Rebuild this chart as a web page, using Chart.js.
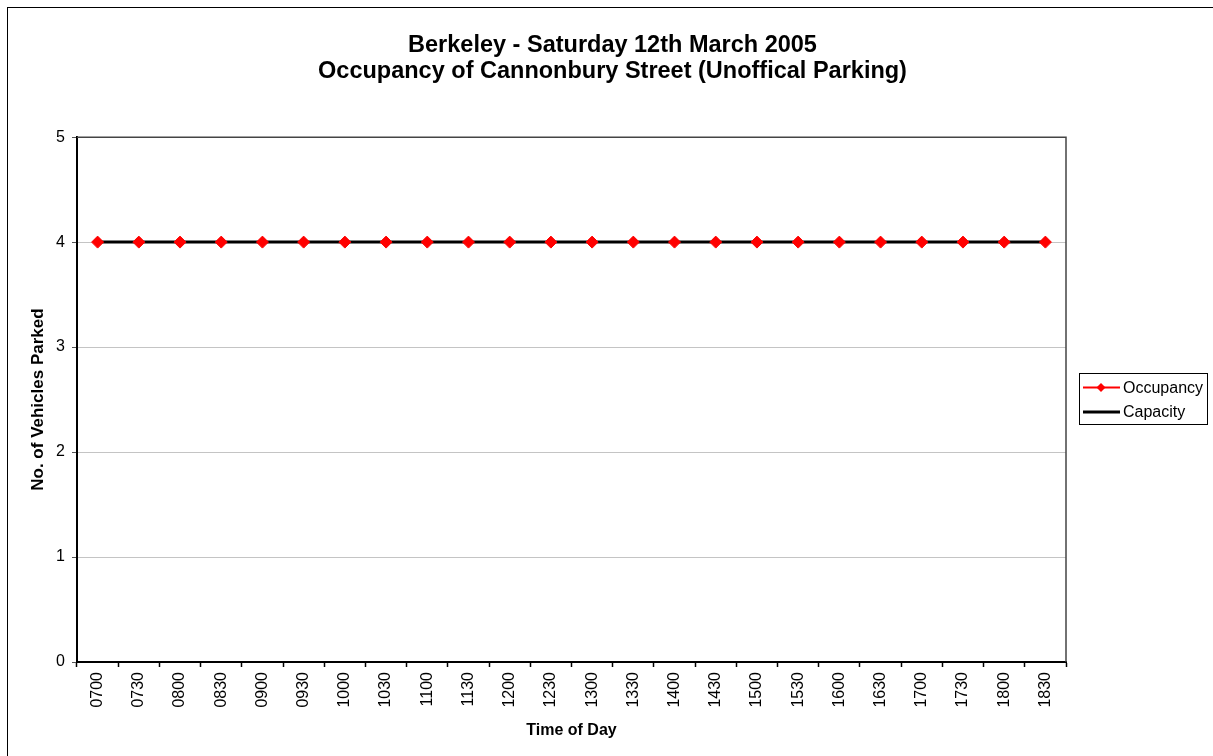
<!DOCTYPE html>
<html>
<head>
<meta charset="utf-8">
<script src="https://cdn.jsdelivr.net/npm/chart.js@4"></script>
<style>
html, body { margin: 0; padding: 0; background: #fff; overflow: hidden; }
#frame { position: absolute; left: 7px; top: 7px; width: 1212px; height: 760px; border: 1px solid #000; }
canvas { display: block; }
</style>
</head>
<body>
<div id="frame"><canvas id="chart" width="1209" height="752"></canvas></div>
<script>
const times = ['0700','0730','0800','0830','0900','0930','1000','1030','1100','1130','1200','1230',
  '1300','1330','1400','1430','1500','1530','1600','1630','1700','1730','1800','1830'];
const occupancy = [4,4,4,4,4,4,4,4,4,4,4,4,4,4,4,4,4,4,4,4,4,4,4,4];
const capacity = [4,4,4,4,4,4,4,4,4,4,4,4,4,4,4,4,4,4,4,4,4,4,4,4];
const yMin = 0, yMax = 5, yStep = 1;

const fontFamily = 'Arial, "Liberation Sans", sans-serif';

// plot area border (top / right) + boxed legend on the right
const excelBits = {
  id: 'excelBits',
  afterDatasetsDraw(chart) {
    const ctx = chart.ctx;
    const a = chart.chartArea;
    ctx.save();
    ctx.strokeStyle = '#444';
    ctx.lineWidth = 1.5;
    ctx.beginPath();
    ctx.moveTo(a.left, a.top);
    ctx.lineTo(a.right, a.top);
    ctx.lineTo(a.right, a.bottom);
    ctx.stroke();
    ctx.restore();
  },
  afterDraw(chart) {
    const ctx = chart.ctx;
    const ds = chart.data.datasets;
    const box = { x: 1071, y: 365, w: 128, h: 51 };
    ctx.save();
    ctx.strokeStyle = '#000';
    ctx.lineWidth = 1;
    ctx.strokeRect(box.x + 0.5, box.y + 0.5, box.w, box.h);
    ctx.font = '16px ' + fontFamily;
    ctx.textBaseline = 'middle';
    ctx.fillStyle = '#000';
    const rows = [379.5, 404];
    ds.forEach((d, i) => {
      const y = rows[i];
      ctx.strokeStyle = d.borderColor;
      ctx.lineWidth = d.borderWidth;
      ctx.beginPath();
      ctx.moveTo(1075, y);
      ctx.lineTo(1112, y);
      ctx.stroke();
      if (d.pointRadius > 0) {
        ctx.fillStyle = d.pointBackgroundColor;
        ctx.beginPath();
        ctx.moveTo(1093 - 4.5, y);
        ctx.lineTo(1093, y - 4.5);
        ctx.lineTo(1093 + 4.5, y);
        ctx.lineTo(1093, y + 4.5);
        ctx.closePath();
        ctx.fill();
      }
      ctx.fillStyle = '#000';
      ctx.fillText(d.label, 1115, y + 1);
    });
    ctx.restore();
  }
};

new Chart(document.getElementById('chart'), {
  type: 'line',
  data: {
    labels: times,
    datasets: [
      {
        label: 'Occupancy',
        data: occupancy,
        borderColor: '#ff0000',
        borderWidth: 2,
        segment: { borderColor: 'rgba(0,0,0,0)' },
        pointStyle: 'rectRot',
        pointRadius: 6,
        pointBorderWidth: 1,
        pointBackgroundColor: '#ff0000',
        pointBorderColor: '#ff0000',
        order: 1
      },
      {
        label: 'Capacity',
        data: capacity,
        borderColor: '#000000',
        borderWidth: 3,
        pointRadius: 0,
        order: 2
      }
    ]
  },
  options: {
    responsive: false,
    animation: false,
    layout: { padding: 0 },
    plugins: {
      legend: { display: false },
      tooltip: { enabled: false },
      title: {
        display: true,
        text: ['Berkeley - Saturday 12th March 2005', 'Occupancy of Cannonbury Street (Unoffical Parking)'],
        color: '#000',
        font: { family: fontFamily, size: 23.5, weight: 'bold', lineHeight: 1.12 },
        padding: { top: 24, bottom: 52.5 }
      }
    },
    scales: {
      x: {
        offset: true,
        afterFit(scale) { scale.height = 98; },
        border: { color: '#000', width: 2 },
        grid: { offset: true, drawOnChartArea: false, tickLength: 5, tickColor: '#000', tickWidth: 1.5 },
        ticks: { color: '#000', font: { family: fontFamily, size: 16 }, minRotation: 90, maxRotation: 90, padding: 5, autoSkip: false },
        title: {
          display: true,
          text: 'Time of Day',
          color: '#000',
          font: { family: fontFamily, size: 16, weight: 'bold' },
          padding: { top: 4, bottom: 19.5 }
        }
      },
      y: {
        min: yMin,
        max: yMax,
        afterFit(scale) { scale.width = 69; },
        border: { color: '#000', width: 2 },
        grid: { color: '#c4c4c4', lineWidth: 1, tickLength: 5, tickColor: '#555' },
        ticks: { stepSize: yStep, color: '#000', font: { family: fontFamily, size: 16 }, padding: 7 },
        title: {
          display: true,
          text: 'No. of Vehicles Parked',
          color: '#000',
          font: { family: fontFamily, size: 17, weight: 'bold' },
          padding: { top: 20, bottom: 0 }
        }
      },
      // empty right-hand strip that leaves room for the legend
      legendSpace: {
        axis: 'y',
        position: 'right',
        min: yMin,
        max: yMax,
        afterFit(scale) { scale.width = 151; },
        border: { display: false },
        grid: { display: false },
        ticks: { display: false }
      }
    }
  },
  plugins: [excelBits]
});
</script>
</body>
</html>
